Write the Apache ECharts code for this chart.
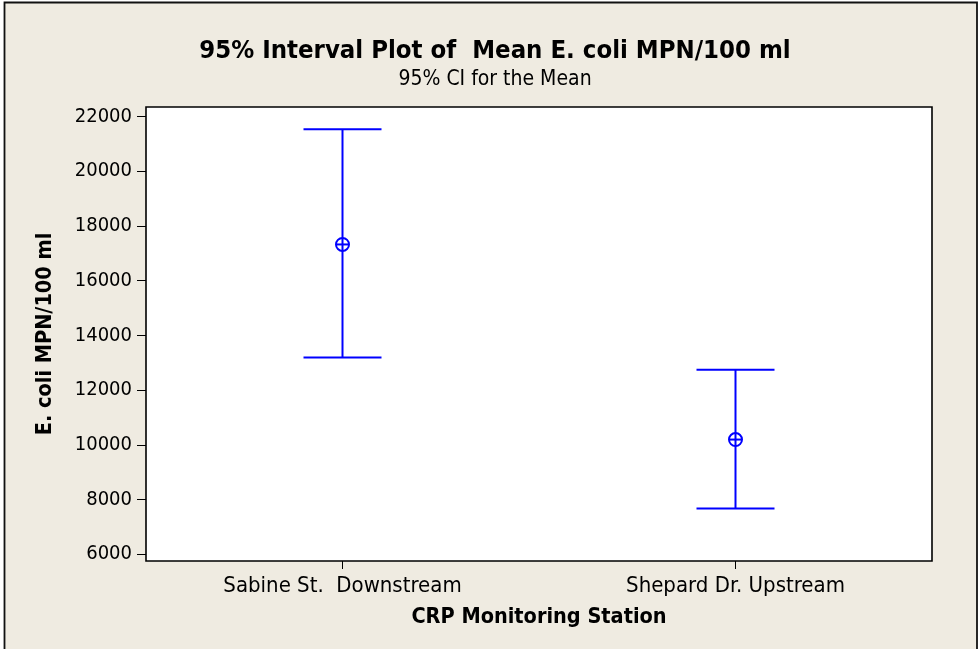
<!DOCTYPE html>
<html>
<head>
<meta charset="utf-8">
<script src="https://cdn.jsdelivr.net/npm/echarts@6/dist/echarts.min.js"></script>
<style>
  html, body { margin: 0; padding: 0; background: #fff; }
  #main { width: 979px; height: 649px; }
</style>
</head>
<body>
<div id="main"></div>
<script>
// station names and 95% CI of mean E. coli MPN/100 ml
var stations = ['Sabine St.  Downstream', 'Shepard Dr. Upstream'];
var means = [17320, 10190];
var lowers = [13185, 7670];
var uppers = [21530, 12740];
var yTicks = [6000, 8000, 10000, 12000, 14000, 16000, 18000, 20000, 22000];

var FONT = "'DejaVu Sans Condensed', 'DejaVu Sans', sans-serif";
var BLUE = '#0000ff';

var seriesData = [];
for (var i = 0; i < stations.length; i++) {
	seriesData.push([i, means[i], lowers[i], uppers[i]]);
}

var renderCI = function(params, api) {
	var x = api.value(0);
	var mid = api.coord([x, api.value(1)]);
	var lo = api.coord([x, api.value(2)]);
	var hi = api.coord([x, api.value(3)]);
	var half = 39; // cap half width
	var r = 6.5;
	var st = { stroke: BLUE, lineWidth: 2, fill: null };
	return {
		type: 'group',
		children: [
			{ type: 'line', shape: { x1: hi[0], y1: hi[1], x2: lo[0], y2: lo[1] }, style: st },
			{ type: 'line', shape: { x1: hi[0] - half, y1: hi[1], x2: hi[0] + half, y2: hi[1] }, style: st },
			{ type: 'line', shape: { x1: lo[0] - half, y1: lo[1], x2: lo[0] + half, y2: lo[1] }, style: st },
			{ type: 'circle', shape: { cx: mid[0], cy: mid[1], r: r }, style: { stroke: BLUE, lineWidth: 2, fill: '#fff' } },
			{ type: 'line', shape: { x1: mid[0] - r, y1: mid[1], x2: mid[0] + r, y2: mid[1] }, style: st },
			{ type: 'line', shape: { x1: mid[0], y1: mid[1] - r, x2: mid[0], y2: mid[1] + r }, style: st }
		]
	};
};

var myChart = echarts.init(document.getElementById('main'), null, { renderer: 'canvas' });

var option = {
	backgroundColor: '#fff',
	animation: false,
	graphic: [
		{
			type: 'rect', z: -10, silent: true,
			shape: { x: 4.5, y: 2.5, width: 972.5, height: 660 },
			style: { fill: '#efebe1', stroke: '#111', lineWidth: 1.8 }
		}
	],
	title: {
		text: '95% Interval Plot of  Mean E. coli MPN/100 ml',
		subtext: '95% CI for the Mean',
		left: 490,
		textAlign: 'center',
		top: 33,
		itemGap: 5,
		textStyle: { fontFamily: FONT, fontWeight: 'bold', fontSize: 25.5, color: '#000' },
		subtextStyle: { fontFamily: FONT, fontSize: 21, color: '#000' }
	},
	grid: {
		left: 146,
		right: 47,
		top: 107,
		bottom: 88,
		show: true,
		backgroundColor: '#fff',
		borderColor: '#000',
		borderWidth: 1.6
	},
	xAxis: {
		type: 'category',
		data: stations,
		boundaryGap: true,
		name: 'CRP Monitoring Station',
		nameLocation: 'middle',
		nameGap: 45,
		nameTextStyle: { fontFamily: FONT, fontWeight: 'bold', fontSize: 21.5, color: '#000' },
		axisLine: { show: false },
		axisTick: { show: true, alignWithLabel: true, length: 8, lineStyle: { color: '#000', width: 1 } },
		axisLabel: { fontFamily: FONT, fontSize: 22, color: '#000', margin: 14 },
		splitLine: { show: false }
	},
	yAxis: {
		type: 'value',
		min: 5752,
		max: 22343,
		name: 'E. coli MPN/100 ml',
		nameLocation: 'middle',
		nameGap: 90,
		nameTextStyle: { fontFamily: FONT, fontWeight: 'bold', fontSize: 21.5, color: '#000' },
		axisLine: { show: false },
		axisTick: { show: true, length: 9, customValues: yTicks, lineStyle: { color: '#000', width: 1 } },
		axisLabel: {
			fontFamily: FONT, fontSize: 20, color: '#000', margin: 14, customValues: yTicks,
			formatter: function(v) { return String(v); }
		},
		splitLine: { show: false }
	},
	series: [
		{
			type: 'custom',
			renderItem: renderCI,
			encode: { x: 0, y: [1, 2, 3] },
			data: seriesData,
			clip: false
		}
	]
};
myChart.setOption(option);
</script>
</body>
</html>
